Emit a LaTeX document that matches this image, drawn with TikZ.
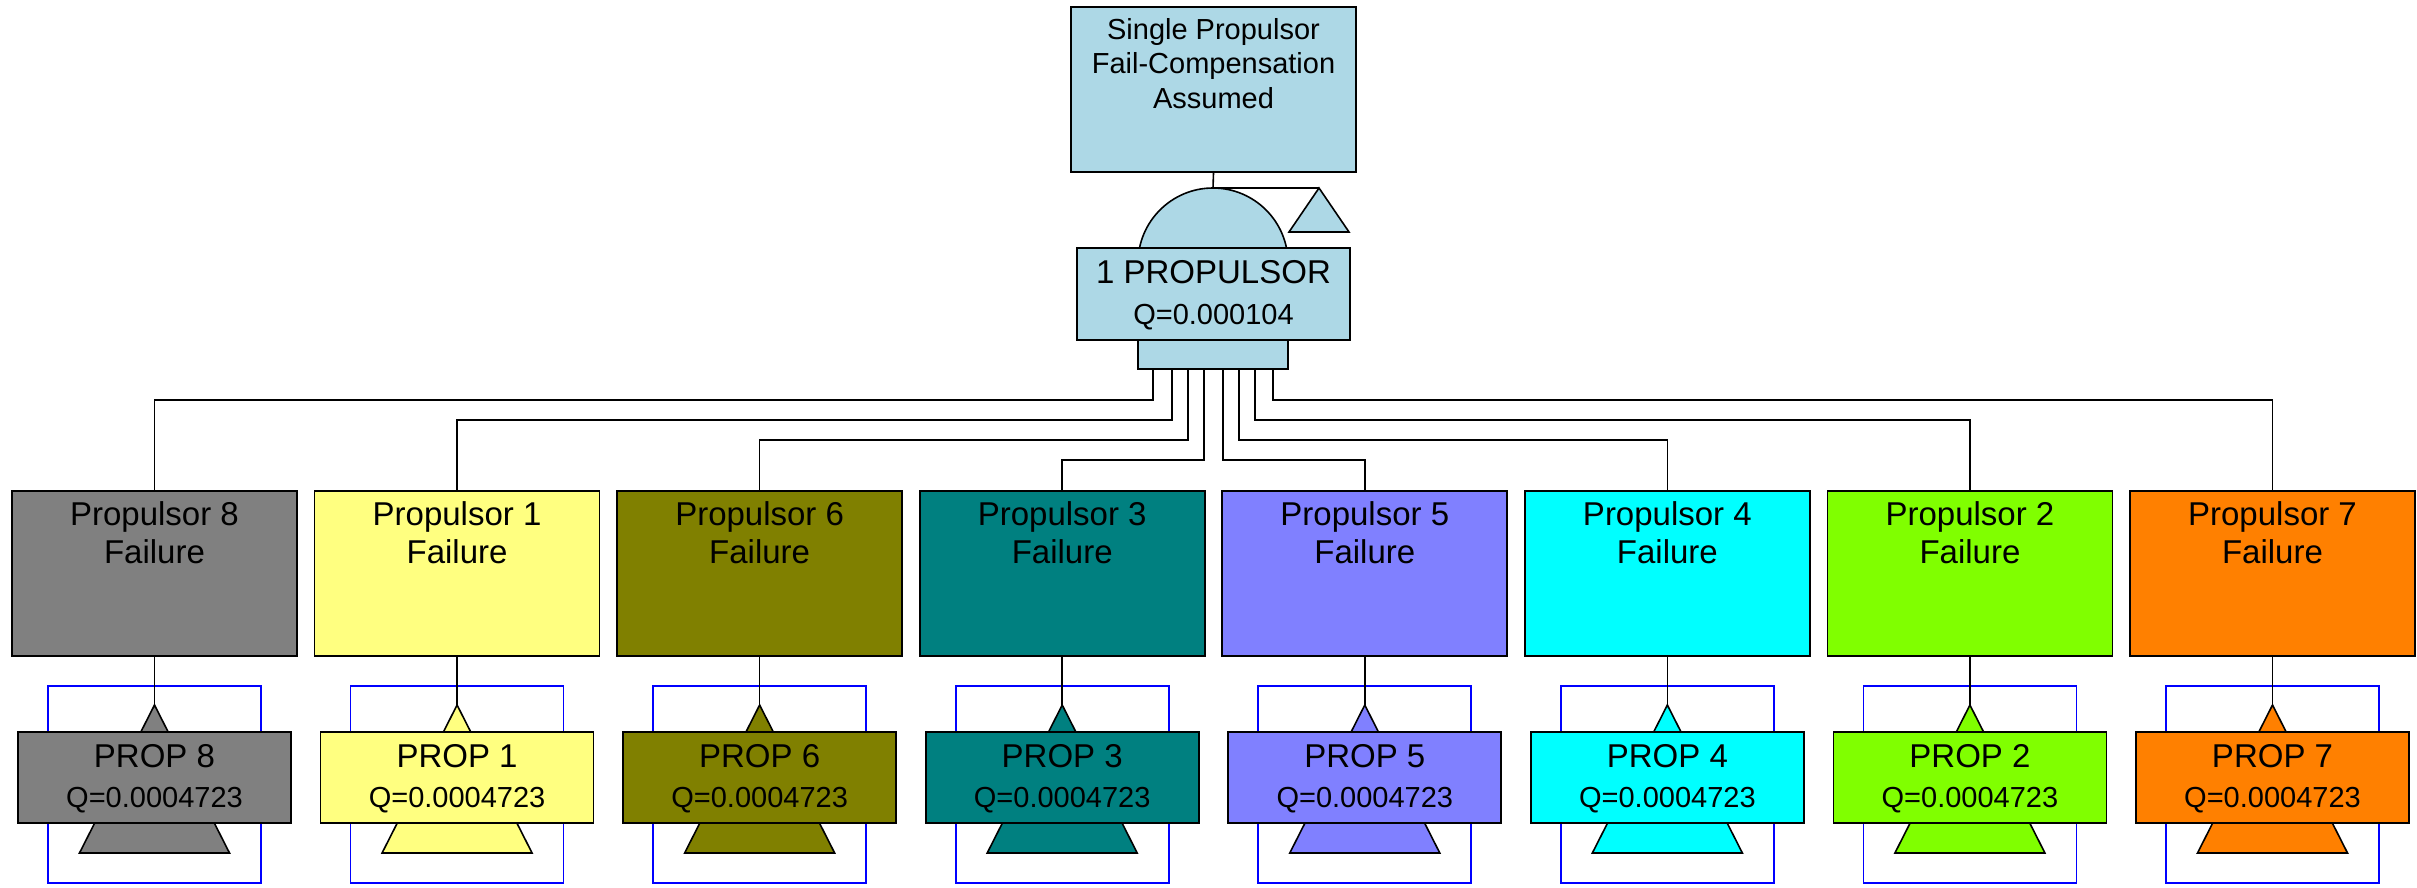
\documentclass[tikz,border=0pt]{standalone}
\usepackage{fontspec}
\setmainfont{Liberation Sans}
\definecolor{cblue}{HTML}{ADD8E6}
\definecolor{cgray}{HTML}{808080}
\definecolor{cyellow}{HTML}{FFFF80}
\definecolor{colive}{HTML}{808000}
\definecolor{cteal}{HTML}{008080}
\definecolor{cperi}{HTML}{8080FF}
\definecolor{ccyan}{HTML}{00FFFF}
\definecolor{clime}{HTML}{80FF00}
\definecolor{corange}{HTML}{FF8000}
\definecolor{cframe}{HTML}{0000FF}
\tikzset{
  outl/.style={draw=black, line width=1.6pt},
  evbox/.style={outl, rectangle, inner sep=0pt, minimum width=285pt, minimum height=165pt},
  bebox/.style={outl, rectangle, inner sep=0pt, minimum width=273pt, minimum height=91pt},
  topbox/.style={outl, rectangle, inner sep=0pt, minimum width=285pt, minimum height=165pt, fill=cblue},
  gatelbl/.style={outl, rectangle, inner sep=0pt, minimum width=273pt, minimum height=92pt, fill=cblue},
  frame/.style={draw=cframe, line width=1.6pt},
  conn/.style={draw=black, line width=1.6pt},
  bigtxt/.style={inner sep=0pt, anchor=base, font=\fontsize{33}{38}\selectfont},
  smalltxt/.style={inner sep=0pt, anchor=base, font=\fontsize{29}{34}\selectfont}
}
\begin{document}
\begin{tikzpicture}[x=1pt,y=-1pt]
\useasboundingbox (0,0) rectangle (2417,888);
% top event
\node[topbox] (top) at (1213.5,89.5) {};
\node[smalltxt] (topt1) at (1213.5,40) {Single Propulsor};
\node[smalltxt] (topt2) at (1213.5,74) {Fail-Compensation};
\node[smalltxt] (topt3) at (1213.5,109) {Assumed};
% gate
\coordinate (gtop) at (1213,188);
\coordinate (tapex) at (1319,188);
\draw[outl, fill=cblue] (1138,369) -- (1138,263) arc (180:360:75) -- (1288,369) -- cycle;
\draw[outl, fill=cblue] (tapex) -- (1349,232) -- (1289,232) -- cycle;
\draw[conn] (top.south) -- (gtop) -- (tapex);
\node[gatelbl] (glbl) at (1213.5,294) {};
\node[bigtxt] (glt1) at (1213.5,283) {1 PROPULSOR};
\node[smalltxt] (glt2) at (1213.5,324) {Q=0.000104};
% children
\foreach \i/\n/\col/\gx/\ly in {0/8/cgray/1153/400, 1/1/cyellow/1172/420, 2/6/colive/1188/440, 3/3/cteal/1204/460, 4/5/cperi/1223/460, 5/4/ccyan/1239/440, 6/2/clime/1255/420, 7/7/corange/1273/400}{
  \pgfmathsetmacro\cx{154.5+302.57*\i}
  \coordinate (g\n) at (\gx,369);
  \node[evbox, fill=\col] (e\n) at (\cx,573.5) {};
  \node[bigtxt] (e\n t1) at (\cx,525) {Propulsor \n};
  \node[bigtxt] (e\n t2) at (\cx,563) {Failure};
  \draw[conn] (g\n) -- (\gx,\ly) -| (e\n.north);
  \draw[frame] (\cx-106.5,686) rectangle (\cx+106.5,883);
  \coordinate (a\n) at (\cx,705);
  \draw[outl, fill=\col] (a\n) -- (\cx+75,853) -- (\cx-75,853) -- cycle;
  \draw[conn] (e\n.south) -- (a\n);
  \node[bebox, fill=\col] (b\n) at (\cx,777.5) {};
  \node[bigtxt] (b\n t1) at (\cx,767) {PROP \n};
  \node[smalltxt] (b\n t2) at (\cx,807) {Q=0.0004723};
}
\end{tikzpicture}
\end{document}
